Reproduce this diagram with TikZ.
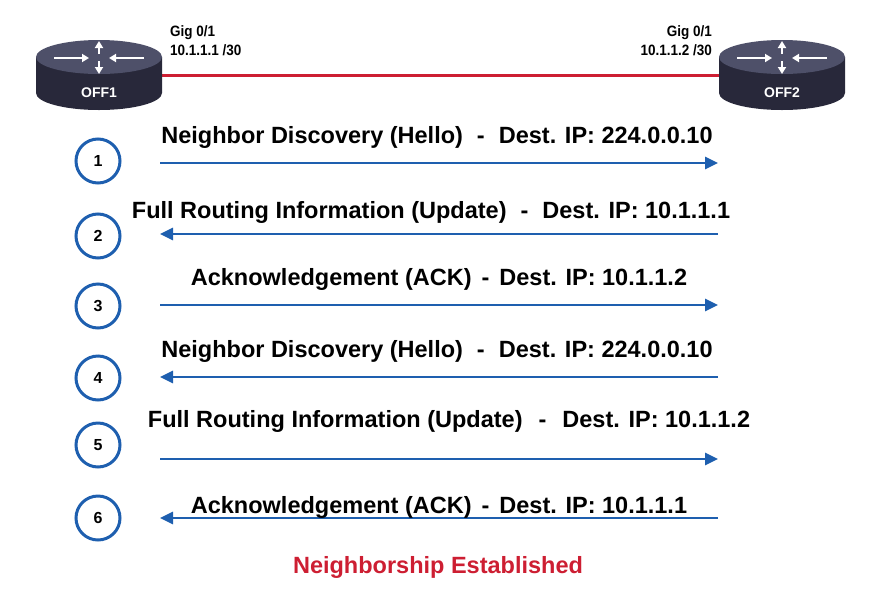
\documentclass[tikz,border=0pt]{standalone}
\usepackage{fontspec}
\setmainfont{Liberation Sans}
\usetikzlibrary{arrows.meta}
\definecolor{myblue}{RGB}{30,95,175}
\definecolor{myred}{RGB}{205,30,50}
\definecolor{rtop}{RGB}{78,80,105}
\definecolor{rside}{RGB}{40,40,58}
\tikzset{
 msg/.style={font=\bfseries\fontsize{23.5}{27}\selectfont, inner sep=0},
 flow/.style={draw=myblue, line width=2.8pt, -{Triangle[length=13pt,width=12pt]}},
 step circ/.style={circle, draw=myblue, line width=3pt, minimum size=44pt, font=\bfseries\fontsize{16}{18}\selectfont, inner sep=0},
 port/.style={font=\bfseries\fontsize{15}{19}\selectfont, inner sep=0, align=left},
}
\newcommand{\router}[3]{%
 \fill[rside] (#1-63,#2) -- (#1-63,#2+36) arc[start angle=180,end angle=0,x radius=63,y radius=17] -- (#1+63,#2) -- cycle;
 \fill[rtop] (#1,#2) ellipse[x radius=63,y radius=17];
 \begin{scope}[white, line width=2.5pt, -{Triangle[length=7pt,width=8pt]}]
  \draw (#1-45,#2+1) -- (#1-10,#2+1);
  \draw (#1+45,#2+1) -- (#1+10,#2+1);
  \draw (#1,#2-3) -- (#1,#2-16);
  \draw (#1,#2+4) -- (#1,#2+17);
 \end{scope}
 \node[text=white, font=\bfseries\fontsize{14}{16}\selectfont] (#3) at (#1,#2+36) {#3};
}
\begin{document}
\begin{tikzpicture}[x=1pt,y=-1pt]
\useasboundingbox (0,0) rectangle (880,600);
\draw[myred, line width=3pt] (160,75) -- (720,75);
\router{99}{57}{OFF1}
\router{782}{57}{OFF2}
\node[port, anchor=north west] (p1) at (170,25) {\scalebox{0.9}[1]{Gig 0/1}\\\scalebox{0.9}[1]{10.1.1.1 /30}};
\node[port, anchor=north east, align=right] (p2) at (712,25) {\scalebox{0.9}[1]{Gig 0/1}\\\scalebox{0.9}[1]{10.1.1.2 /30}};
\foreach \i/\y in {1/161,2/236,3/306,4/378,5/445,6/518}
  \node[step circ] (c\i) at (98,\y) {\i};
\coordinate (l1) at (160,163); \coordinate (r1) at (718,163);
\coordinate (l2) at (160,234); \coordinate (r2) at (718,234);
\coordinate (l3) at (160,305); \coordinate (r3) at (718,305);
\coordinate (l4) at (160,377); \coordinate (r4) at (718,377);
\coordinate (l5) at (160,459); \coordinate (r5) at (718,459);
\coordinate (l6) at (160,518); \coordinate (r6) at (718,518);
\draw[flow] (l1) -- (r1);
\draw[flow] (r2) -- (l2);
\draw[flow] (l3) -- (r3);
\draw[flow] (r4) -- (l4);
\draw[flow] (l5) -- (r5);
\draw[flow] (r6) -- (l6);
\node[msg] (t1) at (437,137) {Neighbor Discovery (Hello)\hspace{14pt}-\hspace{14pt}Dest. IP: 224.0.0.10};
\node[msg] (t2) at (431,212) {Full Routing Information (Update)\hspace{14pt}-\hspace{14pt}Dest. IP: 10.1.1.1};
\node[msg] (t3) at (439,279) {Acknowledgement (ACK)\hspace{10pt}-\hspace{10pt}Dest. IP: 10.1.1.2};
\node[msg] (t4) at (437,351) {Neighbor Discovery (Hello)\hspace{14pt}-\hspace{14pt}Dest. IP: 224.0.0.10};
\node[msg] (t5) at (449,421) {Full Routing Information (Update)\hspace{16pt}-\hspace{16pt}Dest. IP: 10.1.1.2};
\node[msg] (t6) at (439,507) {Acknowledgement (ACK)\hspace{10pt}-\hspace{10pt}Dest. IP: 10.1.1.1};
\node[msg, text=myred] (est) at (438,567) {Neighborship Established};
\end{tikzpicture}
\end{document}
